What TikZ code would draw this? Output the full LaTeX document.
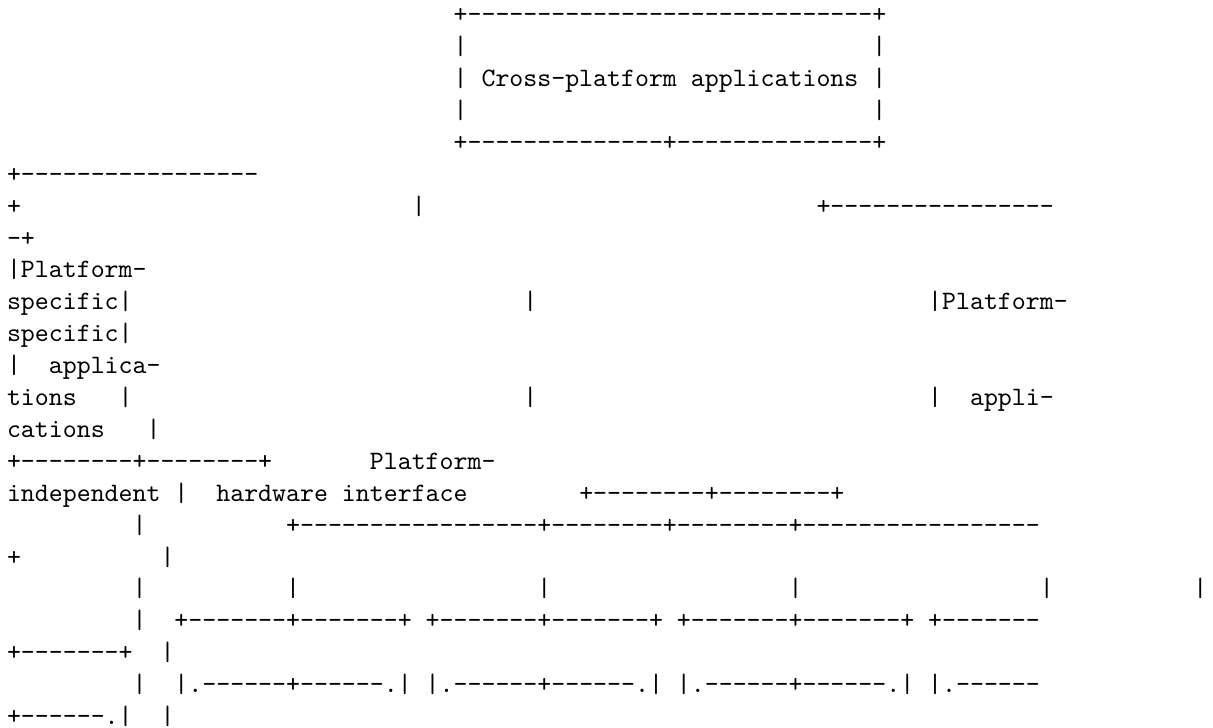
\documentclass[tikz,border=0pt]{standalone}
\newcommand\rl[1]{\ifnum#1>0 -\kern0pt\expandafter\rl\expandafter{\the\numexpr#1-1\relax}\fi}
\begin{document}
\begin{tikzpicture}[x=5.25pt,y=12pt,
  asc/.style={anchor=base west,inner sep=0pt,outer sep=0pt,font=\ttfamily\fontsize{10pt}{12pt}\selectfont}]
\useasboundingbox (-2.64pt,8.54pt) rectangle (453.64pt,-264.93pt);
% line 1-5: top box
\node[asc] (a1) at (32,0) {+\rl{29}+};
\node[asc] (a2l) at (32,-1) {|};
\node[asc] (a2r) at (62,-1) {|};
\node[asc] (a3l) at (32,-2) {|};
\node[asc] (a3t) at (34,-2) {Cross-platform applications};
\node[asc] (a3r) at (62,-2) {|};
\node[asc] (a4l) at (32,-3) {|};
\node[asc] (a4r) at (62,-3) {|};
\node[asc] (a5) at (32,-4) {+\rl{14}+\rl{14}+};
% line 6-8
\node[asc] (a6) at (0,-5) {+\rl{17}};
\node[asc] (a7a) at (0,-6) {+};
\node[asc] (a7b) at (29,-6) {|};
\node[asc] (a7c) at (58,-6) {+\rl{16}};
\node[asc] (a8) at (0,-7) {-+};
% line 9-14
\node[asc] (a9) at (0,-8) {|Platform-};
\node[asc] (a10a) at (0,-9) {specific|};
\node[asc] (a10b) at (37,-9) {|};
\node[asc] (a10c) at (66,-9) {|Platform-};
\node[asc] (a11) at (0,-10) {specific|};
\node[asc] (a12a) at (0,-11) {|};
\node[asc] (a12b) at (3,-11) {applica-};
\node[asc] (a13a) at (0,-12) {tions};
\node[asc] (a13b) at (8,-12) {|};
\node[asc] (a13c) at (37,-12) {|};
\node[asc] (a13d) at (66,-12) {|};
\node[asc] (a13e) at (69,-12) {appli-};
\node[asc] (a14a) at (0,-13) {cations};
\node[asc] (a14b) at (10,-13) {|};
% line 15-16
\node[asc] (a15a) at (0,-14) {+\rl{8}+\rl{8}+};
\node[asc] (a15b) at (26,-14) {Platform-};
\node[asc] (a16a) at (0,-15) {independent};
\node[asc] (a16b) at (12,-15) {|};
\node[asc] (a16c) at (15,-15) {hardware interface};
\node[asc] (a16d) at (41,-15) {+\rl{8}+\rl{8}+};
% line 17-19
\node[asc] (a17a) at (9,-16) {|};
\node[asc] (a17b) at (20,-16) {+\rl{17}+\rl{8}+\rl{8}+\rl{17}};
\node[asc] (a18a) at (0,-17) {+};
\node[asc] (a18b) at (11,-17) {|};
\node[asc] (a19a) at (9,-18) {|};
\node[asc] (a19b) at (20,-18) {|};
\node[asc] (a19c) at (38,-18) {|};
\node[asc] (a19d) at (56,-18) {|};
\node[asc] (a19e) at (74,-18) {|};
\node[asc] (a19f) at (85,-18) {|};
% line 20-23
\node[asc] (a20a) at (9,-19) {|};
\node[asc] (a20b) at (12,-19) {+\rl{7}+\rl{7}+};
\node[asc] (a20c) at (30,-19) {+\rl{7}+\rl{7}+};
\node[asc] (a20d) at (48,-19) {+\rl{7}+\rl{7}+};
\node[asc] (a20e) at (66,-19) {+\rl{7}};
\node[asc] (a21a) at (0,-20) {+\rl{7}+};
\node[asc] (a21b) at (11,-20) {|};
\node[asc] (a22a) at (9,-21) {|};
\node[asc] (a22b) at (12,-21) {|.\rl{6}+\rl{6}.|};
\node[asc] (a22c) at (30,-21) {|.\rl{6}+\rl{6}.|};
\node[asc] (a22d) at (48,-21) {|.\rl{6}+\rl{6}.|};
\node[asc] (a22e) at (66,-21) {|.\rl{6}};
\node[asc] (a23a) at (0,-22) {+\rl{6}.|};
\node[asc] (a23b) at (11,-22) {|};
\end{tikzpicture}
\end{document}
